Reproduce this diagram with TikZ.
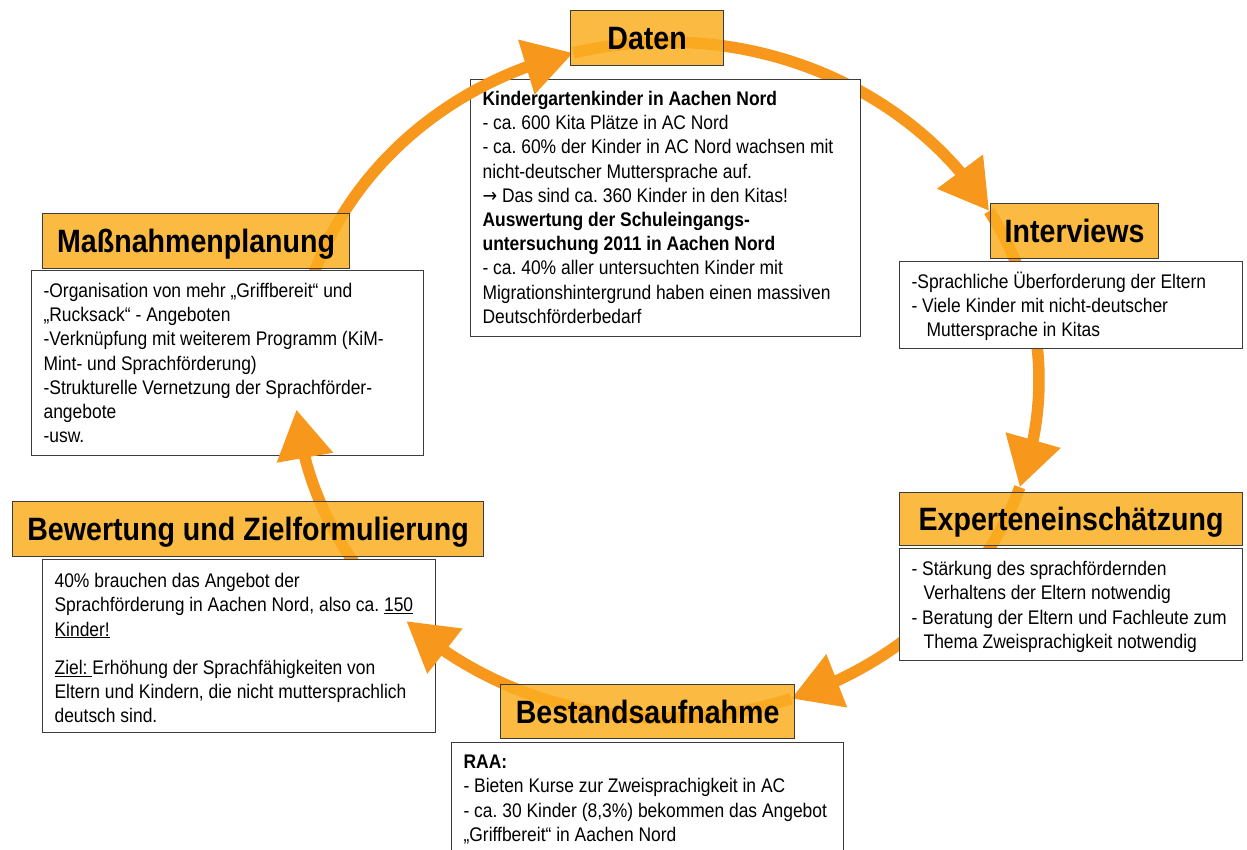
\documentclass[tikz,border=0pt]{standalone}
\usepackage{fontspec}
\setmainfont{Liberation Sans}[FakeStretch=0.885]
\newfontfamily\pfeilfont{DejaVu Sans}[FakeStretch=0.885]
\usepackage{tikz}
\usetikzlibrary{arrows.meta,bending,calc}
\definecolor{pfeilorange}{RGB}{247,152,29}
\definecolor{titelorange}{RGB}{251,174,33}
\definecolor{rahmen}{RGB}{60,60,60}
\frenchspacing

\begin{document}
\begin{tikzpicture}[x=1pt,y=1pt,
  titel/.style={draw=rahmen,line width=1.2pt,fill=titelorange,fill opacity=0.85,text opacity=1,
    anchor=north west,inner sep=0pt,text height=26pt,text depth=3pt,
    font=\fontsize{32.3}{34}\selectfont\bfseries},
  inhalt/.style={draw=rahmen,line width=1.2pt,fill=white,anchor=north west,
    inner xsep=12pt,inner ysep=0pt,align=flush left,
    font=\fontsize{19.7}{24.2}\selectfont},
  pfeil/.style={draw=pfeilorange,line width=11.5pt,-{Triangle[length=49pt,width=54pt]}}]
\path[use as bounding box,fill=white] (0,0) rectangle (1247,-850);
\coordinate (mitte) at (667,-380);

\draw[pfeil] ($(mitte)+(104.6:372 and 338)$) arc[start angle=104.6,end angle=30,x radius=372,y radius=338];
\draw[pfeil] ($(mitte)+(30:372 and 338)$) arc[start angle=30,end angle=-18.5,x radius=372,y radius=338];
\draw[pfeil] ($(mitte)+(-18.5:372 and 338)$) arc[start angle=-18.5,end angle=-70.5,x radius=372,y radius=338];

\node[inhalt,text width=366pt,text height=26pt,text depth=231pt] (datentext) at (470,-79) {%
\textbf{Kindergartenkinder in Aachen Nord}\\
- ca. 600 Kita Plätze in AC Nord\\
- ca. 60\% der Kinder in AC Nord wachsen mit\\
nicht-deutscher Muttersprache auf.\\
{\pfeilfont →} Das sind ca. 360 Kinder in den Kitas!\\
\textbf{Auswertung der Schuleingangs-}\\
\textbf{untersuchung 2011 in Aachen Nord}\\
- ca. 40\% aller untersuchten Kinder mit\\
Migrationshintergrund haben einen massiven\\
Deutschförderbedarf};
\node[inhalt,text width=319pt,text height=27pt,text depth=60pt] (interviewstext) at (899,-261) {%
-Sprachliche Überforderung der Eltern\\
- Viele Kinder mit nicht-deutscher\\
\hspace*{15pt}Muttersprache in Kitas};
\node[inhalt,text width=319pt,text height=27pt,text depth=85pt] (expertentext) at (899,-548) {%
- Stärkung des sprachfördernden\\
\hspace*{12pt}Verhaltens der Eltern notwendig\\
- Beratung der Eltern und Fachleute zum\\
\hspace*{12pt}Thema Zweisprachigkeit notwendig};
\node[inhalt,text width=368pt,text height=26pt,text depth=120pt] (bestandtext) at (451,-742) {%
\textbf{RAA:}\\
- Bieten Kurse zur Zweisprachigkeit in AC\\
- ca. 30 Kinder (8,3\%) bekommen das Angebot\\
„Griffbereit“ in Aachen Nord};

\draw[pfeil] ($(mitte)+(185:372 and 338)$) arc[start angle=185,end angle=104.6,x radius=372,y radius=338];

\node[inhalt,text width=368pt,text height=27pt,text depth=158pt] (massnahmentext) at (31,-270) {%
-Organisation von mehr „Griffbereit“ und\\
„Rucksack“ - Angeboten\\
-Verknüpfung mit weiterem Programm (KiM-\\
Mint- und Sprachförderung)\\
-Strukturelle Vernetzung der Sprachförder-\\
angebote\\
-usw.};

\draw[pfeil] ($(mitte)+(-134.5:372 and 338)$) arc[start angle=-134.5,end angle=-175,x radius=372,y radius=338];

\node[inhalt,text width=369pt,text height=28pt,text depth=145pt] (bewertungtext) at (42,-559) {%
40\% brauchen das Angebot der\\
Sprachförderung in Aachen Nord, also ca. \underline{150}\\
\underline{Kinder!}\\[14pt]
\underline{Ziel:\ }Erhöhung der Sprachfähigkeiten von\\
Eltern und Kindern, die nicht muttersprachlich\\
deutsch sind.};

\draw[pfeil] ($(mitte)+(-70.5:372 and 338)$) arc[start angle=-70.5,end angle=-134.5,x radius=372,y radius=338];

\node[titel,minimum width=153pt,minimum height=55pt] (daten) at (570,-10) {Daten};
\node[titel,minimum width=168pt,minimum height=55pt] (interviews) at (990,-203) {Interviews};
\node[titel,minimum width=343pt,minimum height=53pt] (experten) at (899,-492) {Experteneinschätzung};
\node[titel,minimum width=294pt,minimum height=54pt] (bestand) at (500,-684) {Bestandsaufnahme};
\node[titel,minimum width=471pt,minimum height=55pt] (bewertung) at (12,-501) {Bewertung und Zielformulierung};
\node[titel,minimum width=307pt,minimum height=55pt] (massnahmen) at (42,-213) {Maßnahmenplanung};
\end{tikzpicture}
\end{document}
